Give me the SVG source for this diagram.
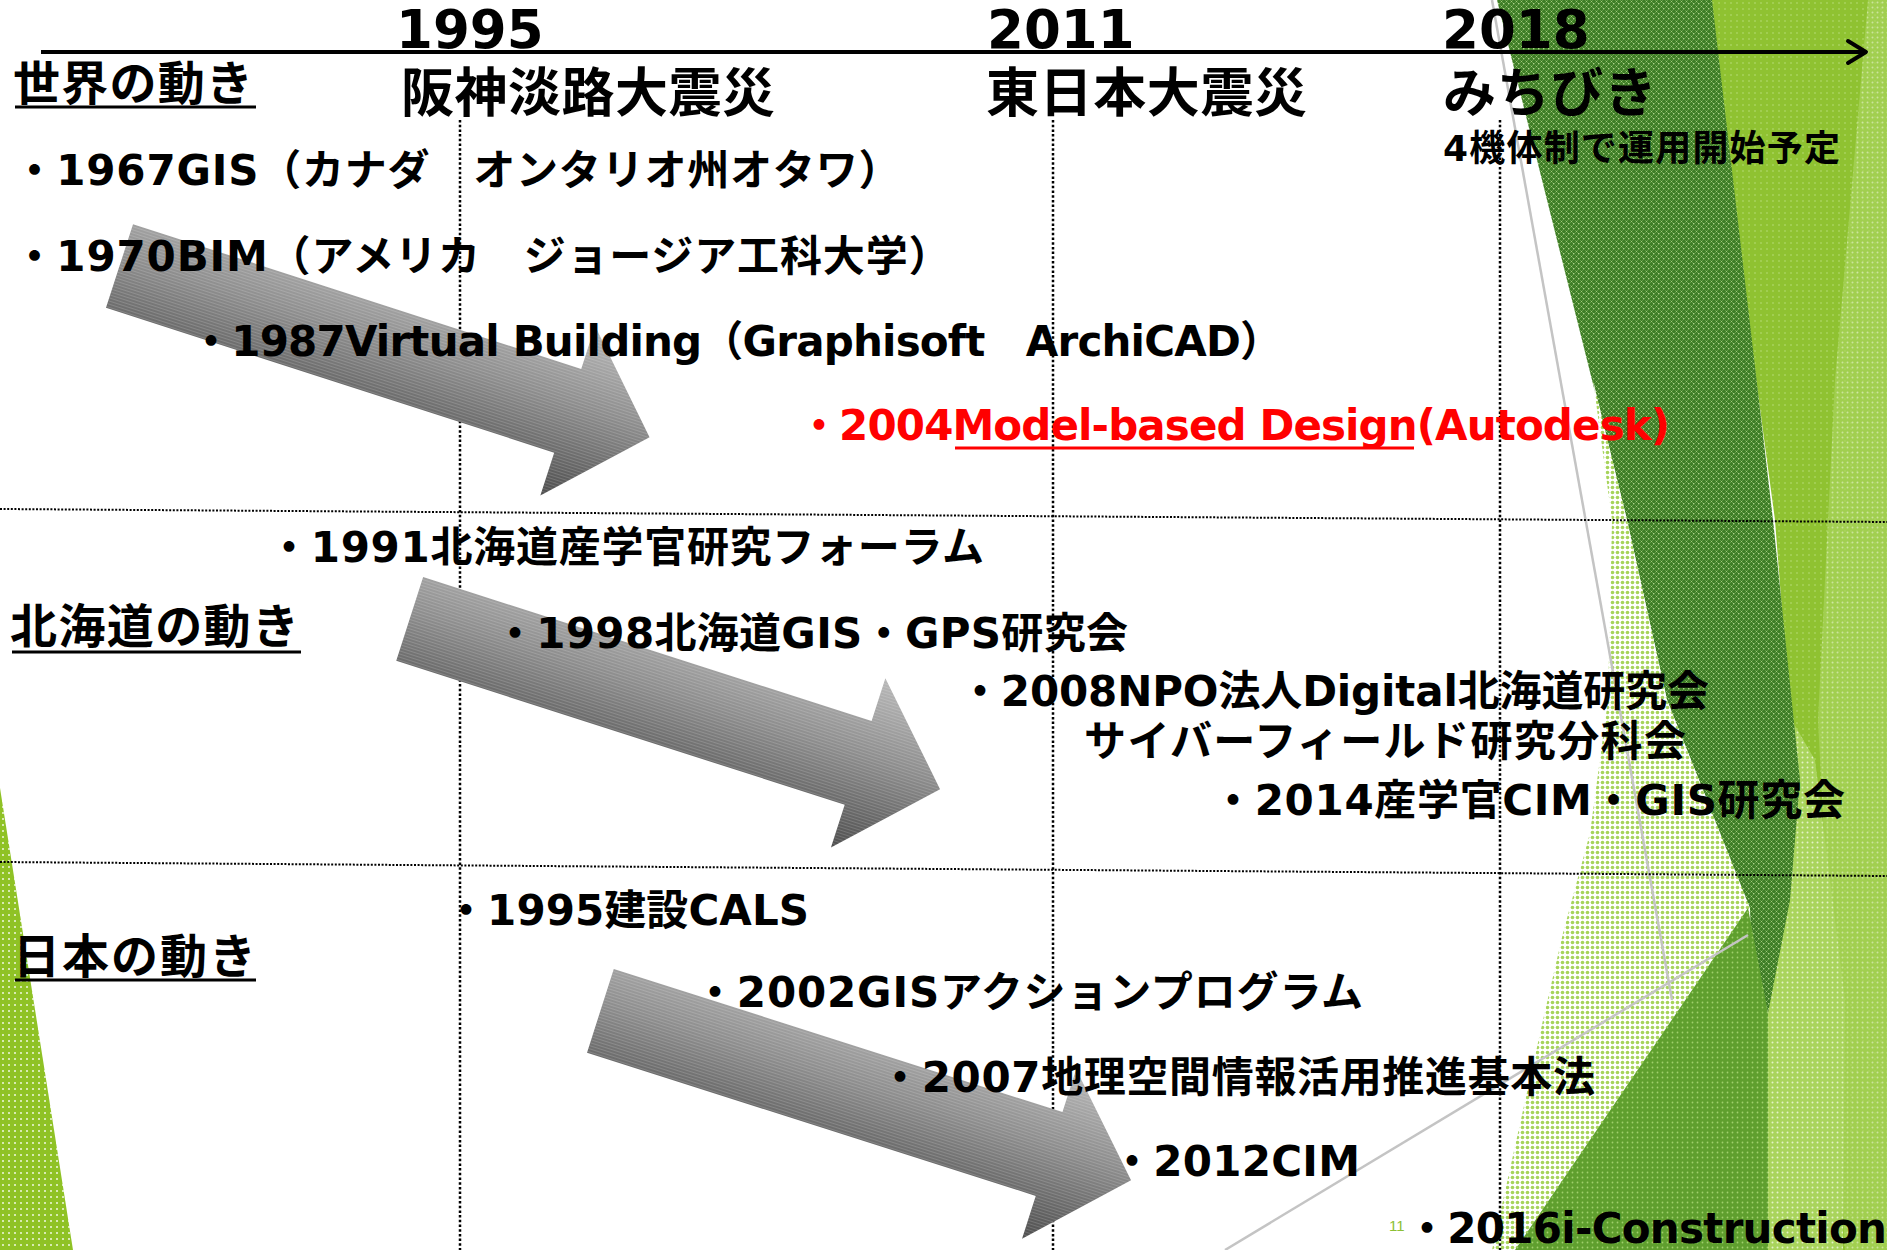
<svg xmlns="http://www.w3.org/2000/svg" xmlns:xlink="http://www.w3.org/1999/xlink" width="1887" height="1250" viewBox="0 0 1887 1250">
<style>
.t{font-family:"DejaVu Sans","Noto Sans CJK JP",sans-serif;font-weight:700;fill:#000}
.item{font-size:42px}
.head{font-size:47px}
.big{font-size:53px}
.sub{font-size:36px}
.red{fill:#ff0000}
.ul{stroke:#000;stroke-width:3}
.vdot{stroke:#000;stroke-width:2.5;stroke-dasharray:2.5 2.2;fill:none}
.hdot{stroke:#000;stroke-width:2;stroke-dasharray:2 1.6;fill:none}
.thin{stroke:#c4c4c4;stroke-width:2.5;fill:none}
</style>
<defs>
<pattern id="pDark" width="5" height="5" patternUnits="userSpaceOnUse">
<rect width="5" height="5" fill="#3e7d26"/>
<path d="M0.5,0.5L2.5,2.5M2.5,0.5L0.5,2.5" stroke="#acd584" stroke-width="0.7"/>
<circle cx="3.75" cy="3.75" r="0.75" fill="#c8e6a2"/>
</pattern>
<pattern id="pPale" width="5" height="5" patternUnits="userSpaceOnUse">
<rect width="5" height="5" fill="#ffffff"/>
<circle cx="2.5" cy="2.5" r="1.8" fill="#a6d35a"/>
</pattern>
<pattern id="pMid" width="5" height="5" patternUnits="userSpaceOnUse">
<rect width="5" height="5" fill="#5f9f2e"/>
<circle cx="2.5" cy="2.5" r="0.9" fill="#a0d06c"/>
</pattern>
<pattern id="pLime" width="6" height="6" patternUnits="userSpaceOnUse">
<rect width="6" height="6" fill="#8fc231"/>
<circle cx="3" cy="3" r="0.8" fill="#b9df7a"/>
</pattern>
<pattern id="pLight" width="5" height="5" patternUnits="userSpaceOnUse">
<rect width="5" height="5" fill="#a9d45c"/>
<circle cx="2.5" cy="2.5" r="1" fill="#e4f3c8"/>
</pattern>
<pattern id="pLeft" width="6" height="6" patternUnits="userSpaceOnUse">
<rect width="6" height="6" fill="#8fc225"/>
<circle cx="3" cy="3" r="1" fill="#f0f8e0"/>
</pattern>
<linearGradient id="arrowGrad" gradientUnits="userSpaceOnUse" x1="0" y1="-89" x2="0" y2="89">
<stop offset="0" stop-color="#b8b8b8"/>
<stop offset="0.45" stop-color="#8e8e8e"/>
<stop offset="1" stop-color="#4e4e4e"/>
</linearGradient>
<pattern id="arrowStripes" width="4" height="3" patternUnits="userSpaceOnUse">
<rect width="4" height="1" fill="#ffffff" fill-opacity="0.16"/>
</pattern>
<g id="bigArrow">
<path d="M0,-44L471,-44L471,-89L557,0L471,89L471,44L0,44Z" fill="url(#arrowGrad)"/>
<path d="M0,-44L471,-44L471,-89L557,0L471,89L471,44L0,44Z" fill="url(#arrowStripes)"/>
</g>
<marker id="chev" markerUnits="userSpaceOnUse" markerWidth="24" markerHeight="24" refX="20" refY="12" orient="auto" overflow="visible">
<polyline points="2,1 20,12 2,23" fill="none" stroke="#000" stroke-width="4" stroke-linecap="round" stroke-linejoin="round"/>
</marker>
</defs>

<rect width="1887" height="1250" fill="#ffffff"/>

<g id="background">
<polygon points="0,788 73,1250 0,1250" fill="url(#pLeft)"/>
<polygon points="1705,0 1887,0 1887,1250 1500,1250 1768,1013 1795,780 1775,520" fill="url(#pLime)"/>
<polygon points="1868,0 1887,0 1887,1250 1845,1250 1818,720 1835,380" fill="url(#pLight)" opacity="0.7"/>
<polygon points="1780,700 1815,760 1845,1000 1843,1250 1768,1250 1768,1013 1790,900" fill="url(#pLight)"/>
<polygon points="1497,0 1712,0 1773,520 1800,780 1790,900 1768,1013 1740,900 1707,800 1667,700 1627,520" fill="url(#pDark)"/>
<polygon points="1593,380 1627,520 1667,700 1707,800 1750,908 1760,1250 1492,1250 1543,1020 1563,933 1590,833 1608,700 1612,520" fill="url(#pPale)"/>
<polygon points="1748,908 1768,1013 1768,1250 1515,1250" fill="url(#pMid)"/>
<line class="thin" x1="1492" y1="0" x2="1672" y2="1000"/>
<line class="thin" x1="1225" y1="1250" x2="1748" y2="935"/>
</g>

<g id="grid">
<line class="vdot" x1="460" y1="120" x2="460" y2="1250"/>
<line class="vdot" x1="1053" y1="120" x2="1053" y2="1250"/>
<line class="vdot" x1="1500" y1="120" x2="1500" y2="1250"/>
<line class="hdot" x1="0" y1="509" x2="1887" y2="522"/>
<line class="hdot" x1="0" y1="862" x2="1887" y2="876"/>
</g>

<g id="connectors">
<use xlink:href="#bigArrow" transform="translate(119.5,266) rotate(17.9)"/>
<use xlink:href="#bigArrow" transform="translate(409.7,618.9) rotate(17.8)"/>
<use xlink:href="#bigArrow" transform="translate(600.4,1010.8) rotate(17.7)"/>
<line x1="41" y1="52" x2="1866" y2="52" stroke="#000" stroke-width="4" marker-end="url(#chev)"/>
</g>

<g id="y1995">
<text class="t big" x="396" y="48">1995</text>
<text class="t big" x="401" y="112" textLength="374">阪神淡路大震災</text>
</g>
<g id="y2011">
<text class="t big" x="987" y="48">2011</text>
<text class="t big" x="986" y="112" textLength="321">東日本大震災</text>
</g>
<g id="y2018">
<text class="t big" x="1442" y="48">2018</text>
<text class="t big" x="1443" y="112" textLength="214">みちびき</text>
<text class="t sub" x="1443" y="161" textLength="397">4機体制で運用開始予定</text>
</g>

<g id="sec-world">
<text class="t head" x="13" y="100" textLength="240">世界の動き</text>
<line class="ul" x1="15" y1="107" x2="256" y2="107"/>
</g>
<g id="sec-hokkaido">
<text class="t head" x="10" y="643" textLength="289">北海道の動き</text>
<line class="ul" x1="12" y1="652" x2="301" y2="652"/>
</g>
<g id="sec-japan">
<text class="t head" x="13" y="973" textLength="243">日本の動き</text>
<line class="ul" x1="15" y1="980" x2="256" y2="980"/>
</g>

<g id="w1967"><text class="t item" x="13.5" y="185" textLength="887">・1967GIS（カナダ　オンタリオ州オタワ）</text></g>
<g id="w1970"><text class="t item" x="13.5" y="271" textLength="937">・1970BIM（アメリカ　ジョージア工科大学）</text></g>
<g id="w1987"><text class="t item" x="190" y="356" textLength="1092">・1987Virtual Building（Graphisoft　ArchiCAD）</text></g>
<g id="w2004">
<text class="t item red" x="798" y="440" textLength="872">・2004Model-based Design(Autodesk)</text>
<line x1="955" y1="448" x2="1414" y2="448" stroke="#ff0000" stroke-width="3"/>
</g>

<g id="h1991"><text class="t item" x="268" y="562" textLength="716">・1991北海道産学官研究フォーラム</text></g>
<g id="h1998"><text class="t item" x="494" y="648" textLength="634">・1998北海道GIS・GPS研究会</text></g>
<g id="h2008">
<text class="t item" x="959" y="706" textLength="750">・2008NPO法人Digital北海道研究会</text>
<text class="t item" x="1084" y="756" textLength="602">サイバーフィールド研究分科会</text>
</g>
<g id="h2014"><text class="t item" x="1212" y="815" textLength="633">・2014産学官CIM・GIS研究会</text></g>

<g id="j1995"><text class="t item" x="445" y="925" textLength="364">・1995建設CALS</text></g>
<g id="j2002"><text class="t item" x="694" y="1007" textLength="669">・2002GISアクションプログラム</text></g>
<g id="j2007"><text class="t item" x="879" y="1092" textLength="716">・2007地理空間情報活用推進基本法</text></g>
<g id="j2012"><text class="t item" x="1111" y="1176" textLength="249">・2012CIM</text></g>
<g id="j2016"><text class="t item" x="1406" y="1243" textLength="481">・2016i-Construction</text></g>

<g id="pagenum"><text x="1389" y="1231" font-family="Liberation Sans, sans-serif" font-size="15" fill="#8cc035">11</text></g>
</svg>
